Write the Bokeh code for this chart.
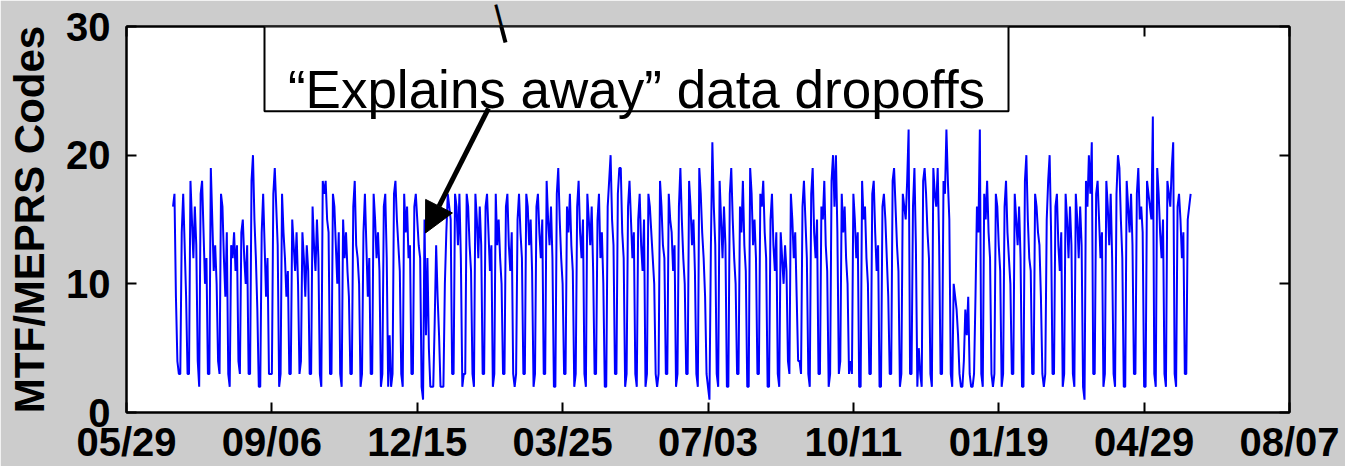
import math
import pandas as pd
from bokeh.plotting import figure
from bokeh.models import (DatetimeAxis, LinearAxis, FixedTicker, DatetimeTickFormatter,
                          Range1d, BoxAnnotation, Label, Arrow, NormalHead, PolyAnnotation)
from bokeh.embed import file_html
from bokeh.resources import INLINE

# ---------------- data ----------------
start_date = "2004-06-30"

codes_q3_2004 = [
    16, 17, 9, 4, 3,
    3, 14, 17, 13, 9, 3, 3,
    18, 15, 12, 16, 13, 4, 2,
    17, 18, 14, 10, 12, 3, 3,
    19, 15, 11, 13, 10, 4, 3,
    17, 16, 12, 9, 14, 3, 2,
    13, 12, 14, 11, 13, 4, 3,
    14, 15, 12, 10, 13, 3, 3,
    18, 20, 15, 12, 8, 2, 2,
    14, 17, 13, 9, 12, 3, 3,
    3, 17, 19, 16, 13, 2, 3,
    17, 14, 12, 9, 11, 3, 3,
    15, 13, 11, 14, 10, 3, 4,
    14, 12, 9, 13, 11, 3, 3,
]
codes_q4_2004 = [
    16, 13, 11, 15, 12, 3, 2,
    18, 17, 18, 15, 14, 3, 3,
    17, 16, 13, 10, 14, 3, 2,
    15, 12, 14, 11, 9, 3, 3,
    16, 18, 13, 12, 10, 2, 3,
    14, 17, 13, 9, 12, 3, 3,
    17, 15, 12, 14, 11, 2, 3,
    16, 17, 12, 2, 6, 2, 3,
    17, 18, 15, 13, 11, 3, 2,
    17, 14, 16, 12, 13, 3, 3,
    16, 17, 15, 13, 12, 2, 1,
    15, 6, 12, 5, 2, 2, 2,
    7, 13, 9, 6, 2, 2, 2,
]
codes_q1_2005 = [
    10, 14, 17, 16, 15, 3, 3,
    17, 16, 13, 17, 12, 2, 3,
    3, 17, 16, 13, 11, 3, 2,
    17, 15, 12, 16, 13, 3, 3,
    16, 17, 14, 11, 13, 2, 3,
    17, 13, 15, 12, 10, 3, 3,
    16, 17, 13, 11, 14, 3, 2,
    3, 15, 17, 14, 12, 3, 3,
    17, 16, 13, 15, 11, 2, 3,
    16, 17, 14, 12, 15, 3, 3,
    18, 15, 13, 16, 12, 2, 2,
    17, 19, 15, 12, 10, 3, 3,
    16, 14, 17, 13, 11, 2, 3,
]
codes_q2_2005 = [
    16, 18, 14, 12, 15, 3, 2,
    17, 15, 13, 16, 11, 3, 3,
    15, 17, 12, 14, 10, 2, 2,
    16, 18, 20, 15, 13, 3, 3,
    17, 19, 19, 14, 12, 2, 3,
    16, 18, 15, 12, 14, 3, 2,
    15, 17, 13, 11, 15, 2, 3,
    17, 16, 14, 12, 10, 3, 2,
    3, 18, 16, 13, 12, 3, 3,
    17, 15, 14, 11, 13, 2, 3,
    16, 19, 15, 12, 10, 3, 3,
    18, 16, 13, 15, 11, 3, 2,
    19, 17, 14, 12, 9, 3, 2,
]
codes_q3_2005 = [
    1, 13, 21, 16, 13, 3, 2,
    18, 15, 12, 16, 13, 2, 2,
    17, 19, 15, 12, 10, 3, 3,
    16, 14, 18, 13, 11, 2, 2,
    19, 17, 13, 15, 12, 3, 3,
    17, 16, 18, 14, 12, 2, 2,
    15, 17, 13, 11, 14, 3, 2,
    14, 12, 10, 13, 11, 4, 3,
    17, 15, 12, 14, 9, 4, 4,
    3, 16, 18, 15, 12, 3, 2,
    17, 19, 14, 12, 15, 3, 3,
    16, 15, 18, 13, 11, 2, 3,
    18, 20, 16, 20, 14, 3, 4,
]
codes_q4_2005 = [
    17, 14, 16, 12, 10, 3, 4,
    3, 17, 15, 12, 14, 2, 2,
    18, 15, 16, 12, 10, 3, 3,
    17, 18, 14, 11, 13, 2, 2,
    16, 17, 15, 12, 9, 3, 3,
    18, 19, 16, 13, 11, 2, 3,
    17, 16, 15, 18, 22, 3, 3,
    16, 19, 13, 2, 5, 3, 2,
    18, 19, 17, 14, 12, 3, 2,
    19, 17, 16, 19, 13, 3, 3,
    18, 17, 22, 18, 15, 3, 2,
    10, 9, 8, 6, 3, 2, 2,
    4, 8, 6, 9, 3, 2, 2,
]
codes_q1_2006 = [
    3, 9, 16, 14, 22, 3, 2,
    17, 15, 18, 14, 12, 3, 2,
    3, 17, 16, 13, 11, 2, 3,
    16, 18, 14, 12, 10, 3, 3,
    17, 15, 13, 16, 12, 2, 2,
    18, 20, 15, 12, 11, 3, 3,
    17, 16, 14, 13, 9, 3, 2,
    3, 15, 18, 20, 14, 3, 3,
    16, 17, 13, 11, 14, 2, 3,
    17, 15, 12, 16, 13, 3, 2,
    17, 15, 12, 16, 13, 2, 1,
    18, 16, 20, 17, 21, 3, 3,
    17, 18, 15, 12, 14, 2, 3,
]
codes_q2_2006 = [
    18, 16, 13, 17, 12, 3, 2,
    17, 20, 19, 15, 12, 2, 2,
    18, 16, 14, 17, 13, 3, 3,
    17, 19, 15, 16, 14, 2, 2,
    18, 17, 16, 15, 23, 3, 2,
    19, 17, 14, 12, 15, 3, 2,
    18, 17, 16, 19, 21, 3, 2,
    16, 17, 15, 12, 14, 3, 3,
    15, 16, 17,
]

tick_dates = ["2004-05-29", "2004-09-06", "2004-12-15", "2005-03-25", "2005-07-03",
              "2005-10-11", "2006-01-19", "2006-04-29", "2006-08-07"]
y_ticks = [0, 10, 20, 30]
y_label = "MTF/MEPRS Codes"
note_text = "\u201cExplains away\u201d data dropoffs"

# ---------------- build ----------------
values = (codes_q3_2004 + codes_q4_2004 + codes_q1_2005 + codes_q2_2005 +
          codes_q3_2005 + codes_q4_2005 + codes_q1_2006 + codes_q2_2006)
dates = pd.date_range(start_date, periods=len(values), freq="D")

def to_ms(d):
    return pd.Timestamp(d).value // 10**6

tick_ms = [to_ms(d) for d in tick_dates]
x0, x1 = tick_ms[0], tick_ms[-1]
Y0, Y1 = 0, 30

# frame geometry (pixels) used for placing annotations
FL, FR, FT, FB = 126, 1289, 26, 413

def px_x(px):
    return x0 + (px - FL) / (FR - FL) * (x1 - x0)

def px_y(py):
    return Y1 - (py - FT) / (FB - FT) * (Y1 - Y0)

FONT = "Liberation Sans"
GREY = "#cccccc"

p = figure(width=1345, height=466, x_axis_type="datetime",
           x_range=Range1d(x0, x1), y_range=Range1d(Y0, Y1),
           output_backend="svg", toolbar_location=None,
           min_border_left=FL, min_border_right=1345 - FR,
           min_border_top=FT, min_border_bottom=466 - FB,
           background_fill_color="white", border_fill_color=GREY,
           outline_line_color="black", outline_line_width=2)
p.xgrid.visible = False
p.ygrid.visible = False

fmt = DatetimeTickFormatter(days="%m/%d", months="%m/%d", years="%m/%d")

def style_axis(ax):
    ax.axis_line_color = "black"
    ax.axis_line_width = 2
    ax.major_tick_in = 10
    ax.major_tick_out = 0
    ax.major_tick_line_width = 2
    ax.major_tick_line_color = "black"
    ax.minor_tick_in = 0
    ax.minor_tick_out = 0
    ax.minor_tick_line_color = None
    ax.major_label_text_font = FONT
    ax.major_label_text_font_size = "40px"
    ax.major_label_text_font_style = "bold"
    ax.major_label_text_color = "black"

xa = p.xaxis[0]
xa.ticker = FixedTicker(ticks=tick_ms)
xa.formatter = fmt
style_axis(xa)
xa.major_label_standoff = 7

ya = p.yaxis[0]
ya.ticker = FixedTicker(ticks=y_ticks)
style_axis(ya)
ya.major_label_standoff = 16
ya.axis_label = y_label
ya.axis_label_text_font = FONT
ya.axis_label_text_font_size = "42px"
ya.axis_label_text_font_style = "bold"
ya.axis_label_text_color = "black"
ya.axis_label_standoff = 10

# mirrored box axes (ticks only, no labels)
ra = LinearAxis(ticker=FixedTicker(ticks=y_ticks))
style_axis(ra)
ra.major_label_overrides = {t: "" for t in y_ticks}
ra.major_label_standoff = 0
p.add_layout(ra, "right")

ta = DatetimeAxis(ticker=FixedTicker(ticks=tick_ms), formatter=fmt)
style_axis(ta)
ta.major_label_overrides = {t: "" for t in tick_ms}
ta.major_label_standoff = 0
p.add_layout(ta, "above")

p.line(x=dates, y=values, line_color="#0000ff", line_width=2)

# annotation box with text
box = BoxAnnotation(left=px_x(264), right=px_x(1008), top=px_y(26), bottom=px_y(111),
                    fill_color="white", fill_alpha=1.0, line_color="black",
                    line_width=2, line_alpha=1.0, line_dash="solid")
p.add_layout(box)
p.add_layout(Label(x=px_x(636), y=px_y(89), text=note_text, text_font=FONT,
                   text_font_size="53px", text_align="center",
                   text_baseline="alphabetic", text_color="black"))

# leader line coming from above: part inside the frame ...
p.add_layout(PolyAnnotation(xs=[px_x(494), px_x(505)], ys=[px_y(0), px_y(42)],
                            line_color="black", line_alpha=1.0, line_width=4,
                            fill_alpha=0.0))
# ... and part in the grey margin above the frame (side-panel annotation, not clipped)
lead_angle = math.atan2(505 - 494, 42)
p.add_layout(Label(x=px_x(497.9), y=px_y(14.5), text="\u2503", text_font="DejaVu Sans Mono",
                   text_font_size="19px", text_align="center", text_baseline="middle",
                   angle=lead_angle, text_color="black"), "above")

# arrow to the dropoff
p.add_layout(Arrow(end=NormalHead(size=30, fill_color="black", line_color="black"),
                   x_start=px_x(488), y_start=px_y(108),
                   x_end=px_x(425), y_end=px_y(233),
                   line_color="black", line_width=5))

open("out.html", "w").write(file_html(p, INLINE))
